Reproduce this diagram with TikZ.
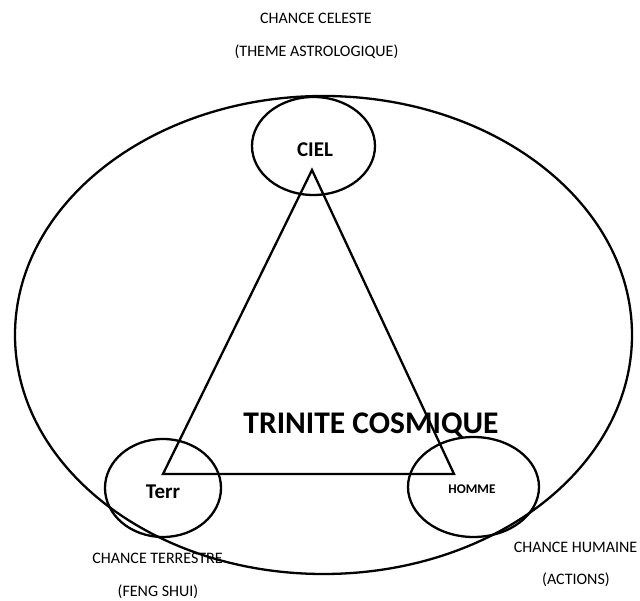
\documentclass[tikz,border=0pt]{standalone}
\usepackage{fontspec}
\setmainfont{Carlito}
\usetikzlibrary{shapes.geometric}
\begin{document}
\begin{tikzpicture}[x=1pt,y=-1pt,
  ring/.style={draw,ellipse,line width=2.3pt,inner sep=0pt},
  small/.style={font=\fontsize{16}{18}\selectfont,inner sep=0pt},
  bigb/.style={font=\fontsize{21}{24}\selectfont\bfseries,inner sep=0pt}]
\useasboundingbox (0,0) rectangle (640,601);
\node[ring,minimum width=617pt,minimum height=478pt] (cosmos) at (323.5,335) {};
\node[ring,minimum width=123pt,minimum height=98pt] (ciel) at (313.5,146) {};
\node[ring,minimum width=116pt,minimum height=98pt] (terr) at (163,488) {};
\node[ring,minimum width=131pt,minimum height=100pt] (homme) at (473.5,487) {};
\coordinate (apex) at (312,170);
\coordinate (left) at (163,474);
\coordinate (right) at (454,474);
\draw[line width=2.3pt,line join=miter] (apex) -- (left) -- (right) -- cycle;
\node[bigb] (tciel) at (315,150) {CIEL};
\node[bigb] (tterr) at (163,492) {Terr};
\node[font=\fontsize{13.3}{15}\selectfont\bfseries,inner sep=0pt] (thomme) at (472,489) {HOMME};
\node[font=\fontsize{31.5}{34}\selectfont\bfseries,inner sep=0pt] (trinite) at (371,425) {TRINITE COSMIQUE};
\node[small] (cc) at (316,18) {CHANCE CELESTE};
\node[small] (ta) at (316.5,52) {(THEME ASTROLOGIQUE)};
\node[small] (ct) at (157.5,558) {CHANCE TERRESTRE};
\node[small] (fs) at (158,592) {(FENG SHUI)};
\node[small] (ch) at (575.5,547) {CHANCE HUMAINE};
\node[small] (ac) at (576,580) {(ACTIONS)};
\end{tikzpicture}
\end{document}
